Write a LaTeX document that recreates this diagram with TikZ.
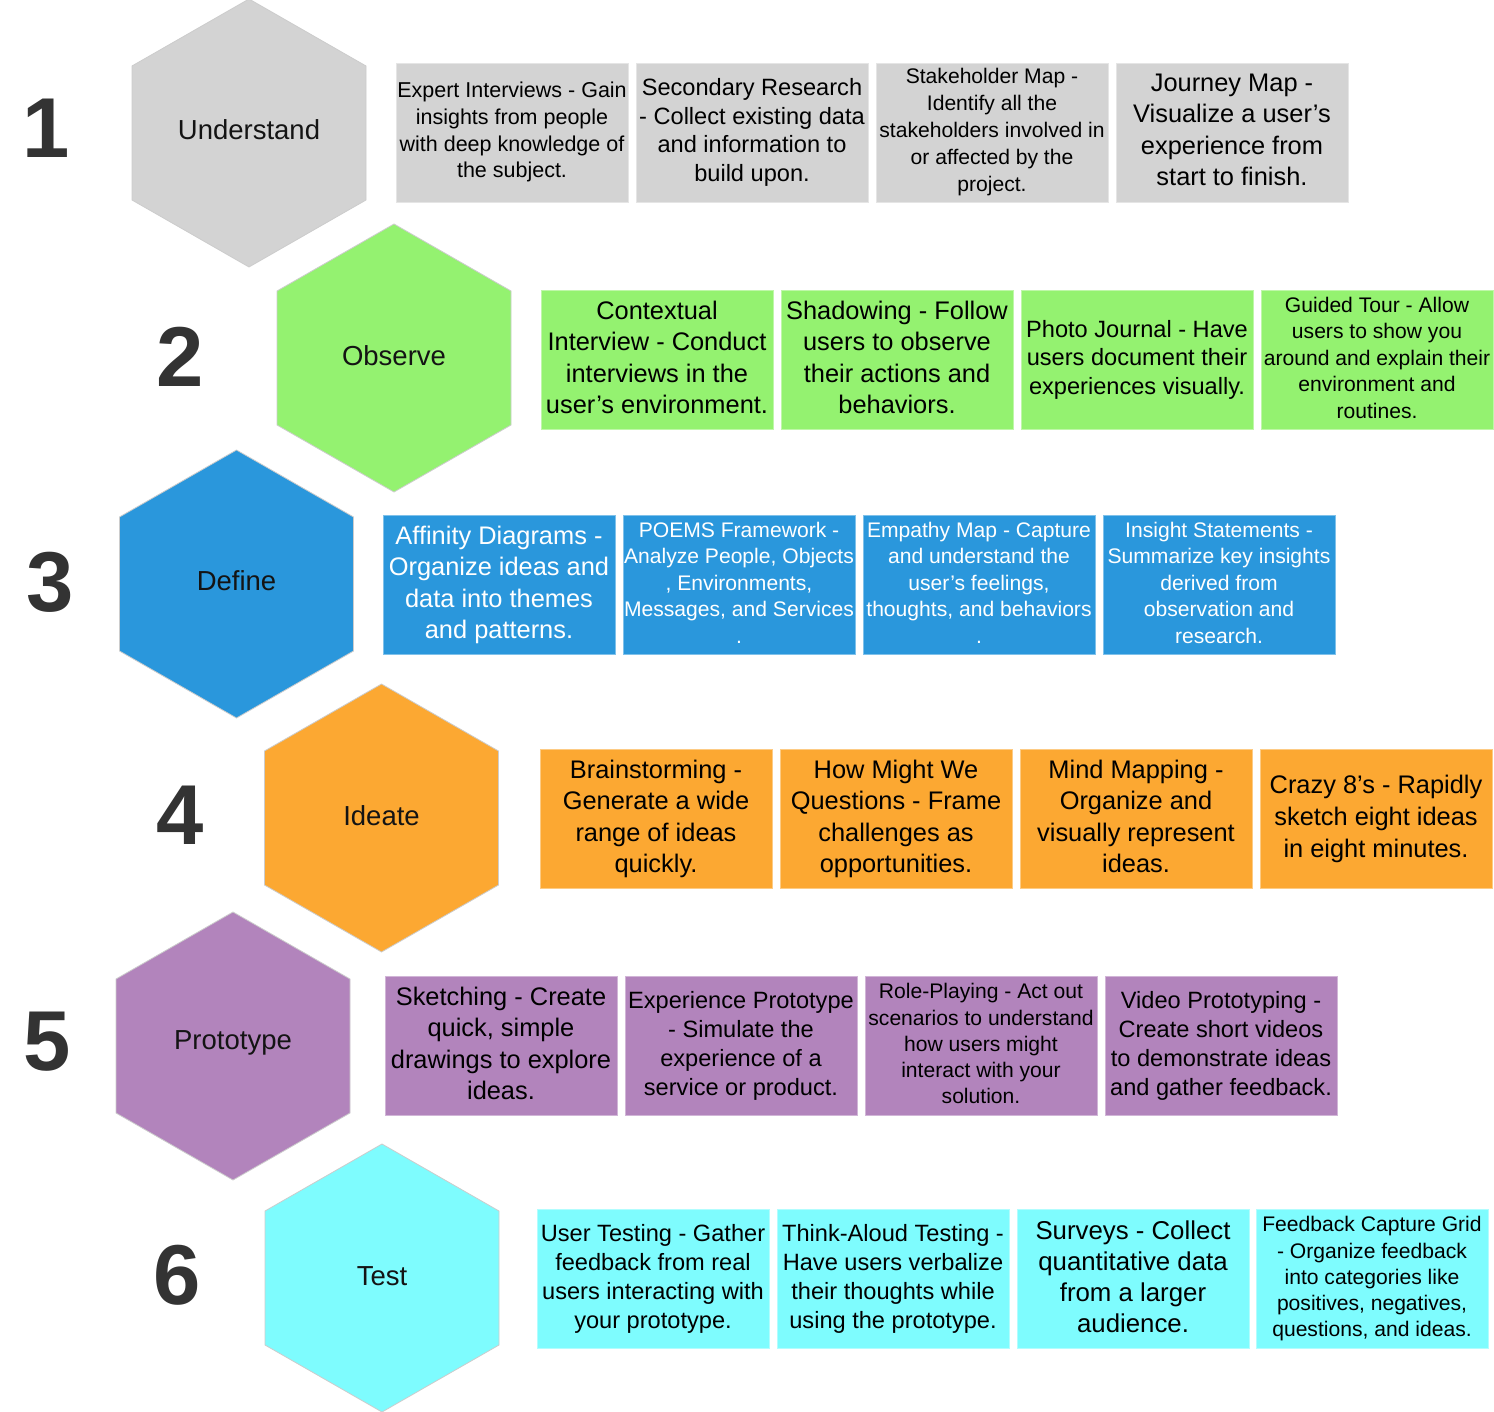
\documentclass[tikz,border=0pt]{standalone}
\usepackage{fontspec}
\setmainfont{Liberation Sans}
\definecolor{cgray}{HTML}{D3D3D3}
\definecolor{cgreen}{HTML}{94F270}
\definecolor{cblue}{HTML}{2A97DC}
\definecolor{corange}{HTML}{FCA832}
\definecolor{cpurple}{HTML}{B284BC}
\definecolor{ccyan}{HTML}{7EFCFE}
\definecolor{numc}{HTML}{333333}
\newcommand{\bxstrut}{\rule[-0.22em]{0pt}{0.97em}}
\newcommand{\hexagonat}[3]{%
  \draw[hexshape, fill=#3] ({#1},{#2-134}) -- ({#1+117},{#2-67}) -- ({#1+117},{#2+67})
    -- ({#1},{#2+134}) -- ({#1-117},{#2+67}) -- ({#1-117},{#2-67}) -- cycle;}
\tikzset{
  hexshape/.style={draw=black!20, line width=0.8pt},
  hexlabel/.style={font=\fontsize{27.5}{33}\selectfont, text=black!92, inner sep=0pt},
  numlabel/.style={font=\fontsize{85}{100}\selectfont\bfseries, text=numc, inner sep=0pt},
  box/.style={minimum width=232pt, minimum height=139pt, inner sep=0pt, align=center, line width=0.8pt,
    execute at begin node=\bxstrut, execute at end node=\bxstrut},
  fs/.style={font=\fontsize{21.1}{26.5}\selectfont},
  fx/.style={font=\fontsize{21.5}{26.7}\selectfont},
  fm/.style={font=\fontsize{23.6}{28.7}\selectfont},
  fl/.style={font=\fontsize{25.4}{31.3}\selectfont},
  gbox/.style={box, fill=cgray, draw=cgray!60!white},
  grbox/.style={box, fill=cgreen, draw=cgreen!60!white},
  blbox/.style={box, fill=cblue, draw=cblue!60!white, text=white},
  orbox/.style={box, fill=corange, draw=corange!60!white},
  pubox/.style={box, fill=cpurple, draw=cpurple!60!white},
  cybox/.style={box, fill=ccyan, draw=ccyan!60!white},
}
\begin{document}
\begin{tikzpicture}[x=1pt, y=-1pt]
\useasboundingbox (0,0) rectangle (1494,1412);
\fill[white] (0,0) rectangle (1494,1412);

% hexagons
\hexagonat{249}{133}{cgray}
\hexagonat{394}{358}{cgreen}
\hexagonat{236.5}{584}{cblue}
\hexagonat{381.5}{818}{corange}
\hexagonat{233}{1046}{cpurple}
\hexagonat{382}{1278}{ccyan}

\node[hexlabel] (hU) at (249,130) {Understand};
\node[hexlabel] (hO) at (394,356) {Observe};
\node[hexlabel] (hD) at (236.5,581) {Define};
\node[hexlabel] (hI) at (381.5,816) {Ideate};
\node[hexlabel] (hP) at (233,1043) {Prototype};
\node[hexlabel] (hT) at (382,1276) {Test};

% numbers
\node[numlabel] (n1) at (46,128) {1};
\node[numlabel] (n2) at (180,357) {2};
\node[numlabel] (n3) at (50,582) {3};
\node[numlabel] (n4) at (180,815) {4};
\node[numlabel] (n5) at (47,1042) {5};
\node[numlabel] (n6) at (177,1275) {6};

% row 1
\node[gbox, fx] (b11) at (512,132.5) {Expert Interviews - Gain\\insights from people\\with deep knowledge of\\the subject.};
\node[gbox, fm] (b12) at (752,132.5) {Secondary Research\\- Collect existing data\\and information to\\build upon.};
\node[gbox, font=\fontsize{21.1}{27}\selectfont] (b13) at (992,132.5) {Stakeholder Map -\\Identify all the\\stakeholders involved in\\or affected by the\\project.};
\node[gbox, font=\fontsize{25.4}{31.6}\selectfont] (b14) at (1232,132.5) {Journey Map -\\Visualize a user’s\\experience from\\start to finish.};

% row 2
\node[grbox, font=\fontsize{25.4}{31.6}\selectfont] (b21) at (657,360) {Contextual\\Interview - Conduct\\interviews in the\\user’s environment.};
\node[grbox, font=\fontsize{25.4}{31.6}\selectfont] (b22) at (897,360) {Shadowing - Follow\\users to observe\\their actions and\\behaviors.};
\node[grbox, fm] (b23) at (1137,360) {Photo Journal - Have\\users document their\\experiences visually.};
\node[grbox, fs] (b24) at (1377,360) {Guided Tour - Allow\\users to show you\\around and explain their\\environment and\\routines.};

% row 3
\node[blbox, font=\fontsize{25.4}{31.6}\selectfont] (b31) at (499,585) {Affinity Diagrams -\\Organize ideas and\\data into themes\\and patterns.};
\node[blbox, fs] (b32) at (739,585) {POEMS Framework -\\Analyze People, Objects\\, Environments,\\Messages, and Services\\.};
\node[blbox, fs] (b33) at (979,585) {Empathy Map - Capture\\and understand the\\user’s feelings,\\thoughts, and behaviors\\.};
\node[blbox, fs] (b34) at (1219,585) {Insight Statements -\\Summarize key insights\\derived from\\observation and\\research.};

% row 4
\node[orbox, fl] (b41) at (656,819) {Brainstorming -\\Generate a wide\\range of ideas\\quickly.};
\node[orbox, fl] (b42) at (896,819) {How Might We\\Questions - Frame\\challenges as\\opportunities.};
\node[orbox, fl] (b43) at (1136,819) {Mind Mapping -\\Organize and\\visually represent\\ideas.};
\node[orbox, font=\fontsize{25.4}{31.6}\selectfont] (b44) at (1376,819) {Crazy 8’s - Rapidly\\sketch eight ideas\\in eight minutes.};

% row 5
\node[pubox, fl] (b51) at (501,1046) {Sketching - Create\\quick, simple\\drawings to explore\\ideas.};
\node[pubox, fm] (b52) at (741,1046) {Experience Prototype\\- Simulate the\\experience of a\\service or product.};
\node[pubox, font=\fontsize{21.1}{26.3}\selectfont] (b53) at (981,1046) {Role-Playing - Act out\\scenarios to understand\\how users might\\interact with your\\solution.};
\node[pubox, fm] (b54) at (1221,1046) {Video Prototyping -\\Create short videos\\to demonstrate ideas\\and gather feedback.};

% row 6
\node[cybox, fm] (b61) at (653,1279) {User Testing - Gather\\feedback from real\\users interacting with\\your prototype.};
\node[cybox, fm] (b62) at (893,1279) {Think-Aloud Testing -\\Have users verbalize\\their thoughts while\\using the prototype.};
\node[cybox, font=\fontsize{25.8}{31}\selectfont] (b63) at (1133,1279) {Surveys - Collect\\quantitative data\\from a larger\\audience.};
\node[cybox, font=\fontsize{21.1}{26.3}\selectfont] (b64) at (1372,1279) {Feedback Capture Grid\\- Organize feedback\\into categories like\\positives, negatives,\\questions, and ideas.};
\end{tikzpicture}
\end{document}
